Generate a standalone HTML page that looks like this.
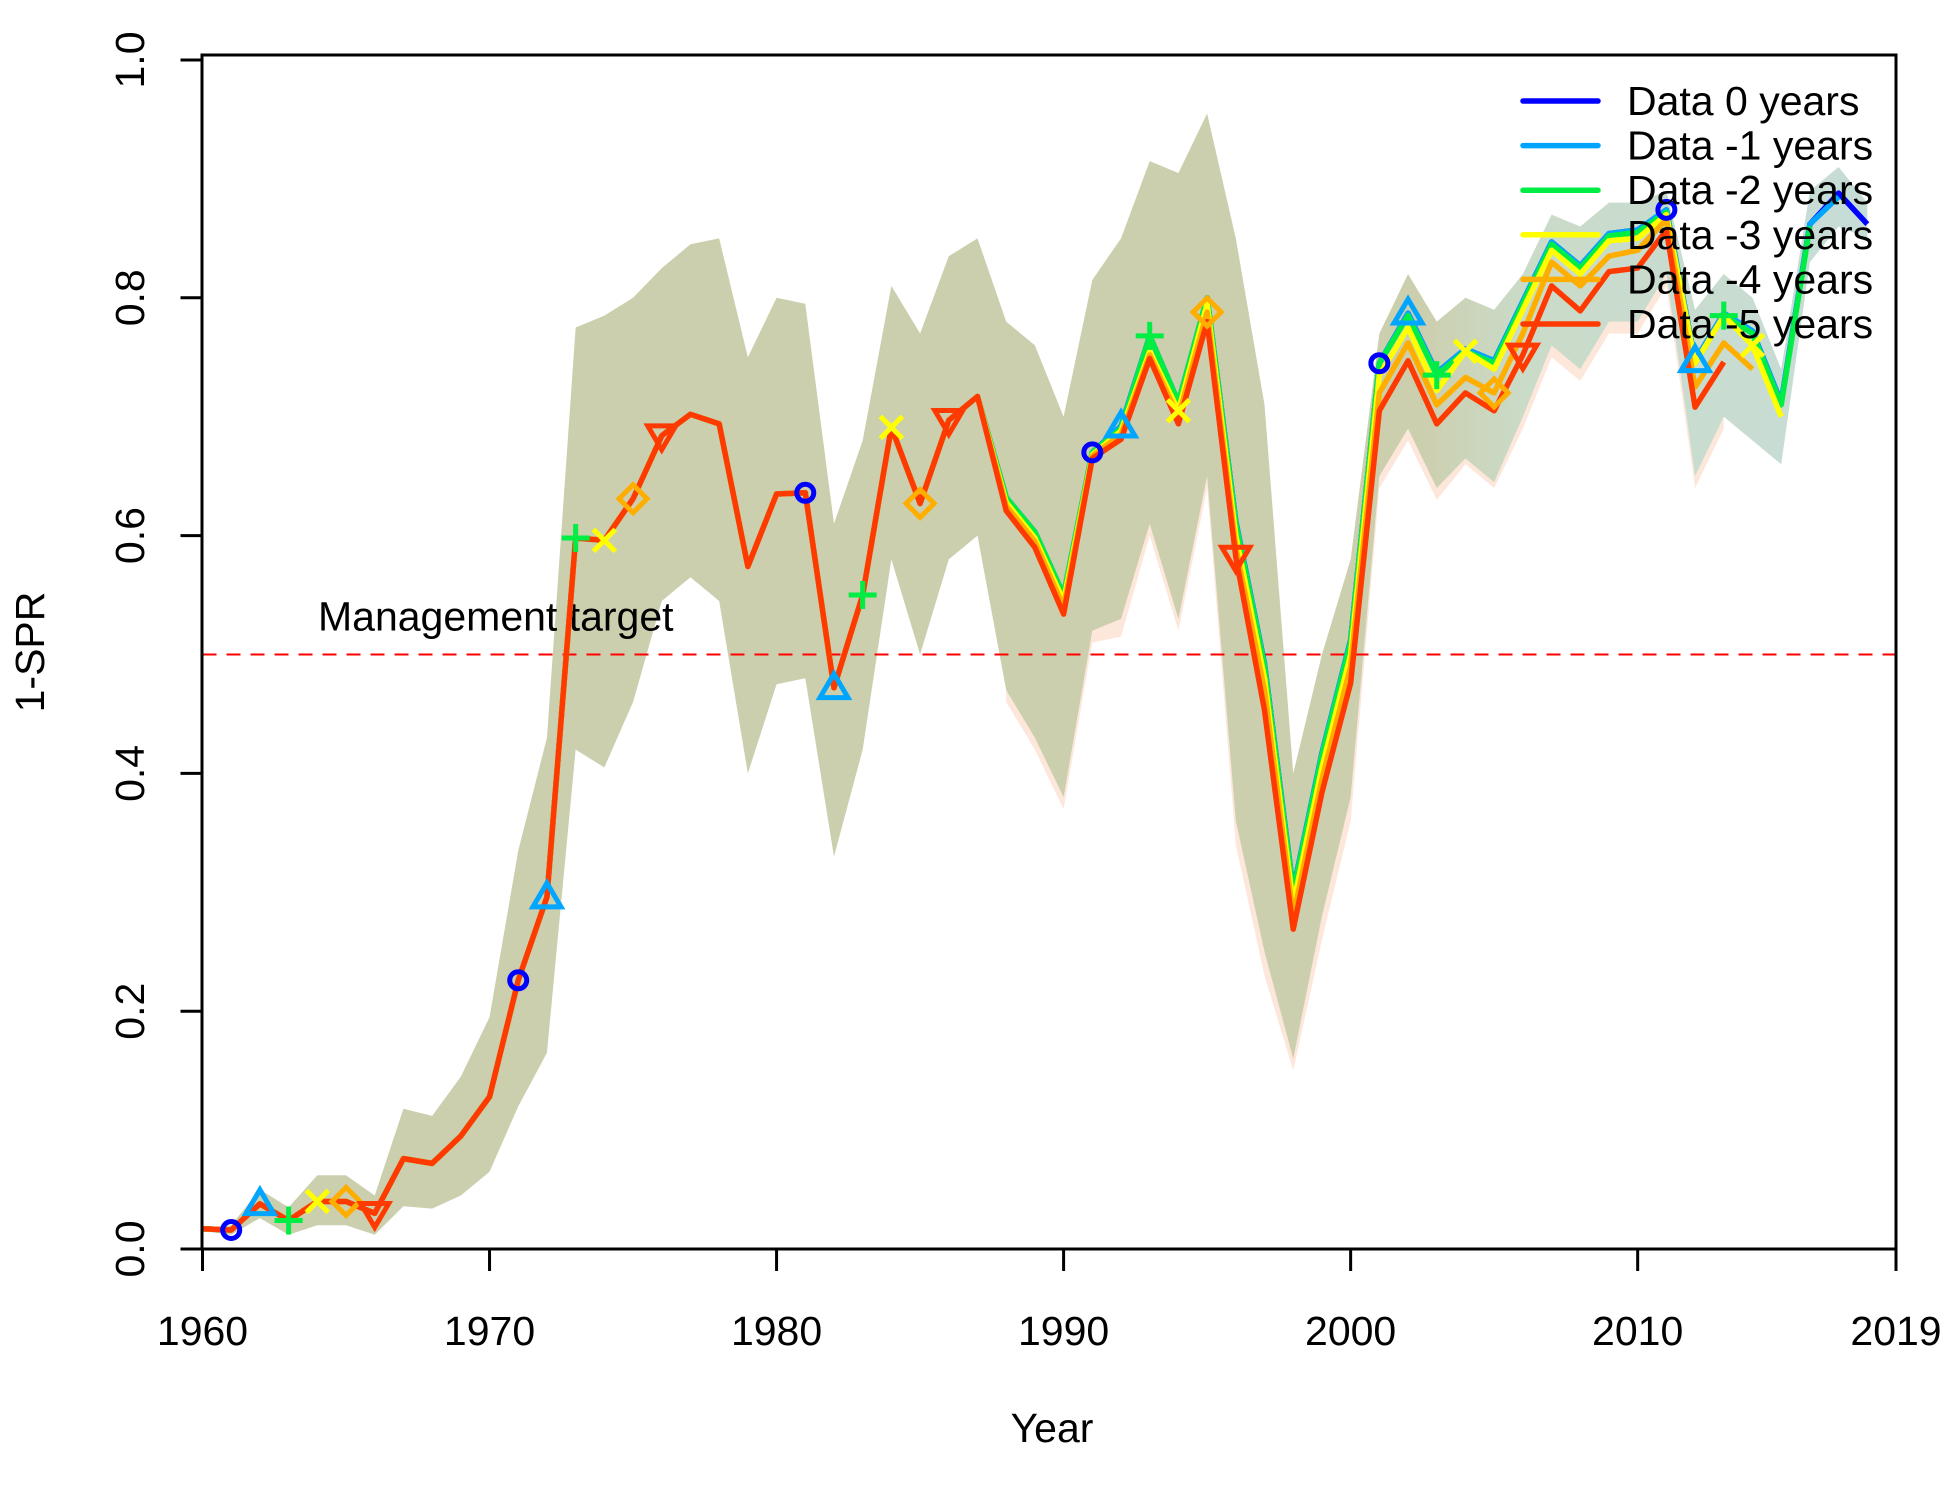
<!DOCTYPE html>
<html><head><meta charset="utf-8"><style>
html,body{margin:0;padding:0;background:#fff;}
svg{display:block;font-family:"Liberation Sans",Arial,sans-serif;}
</style></head><body>
<svg id="chart" width="1950" height="1500" viewBox="0 0 1950 1500" xmlns="http://www.w3.org/2000/svg">
<defs>
<linearGradient id="bandGrad" x1="202" x2="1896" y1="0" y2="0" gradientUnits="userSpaceOnUse">
<stop offset="0" stop-color="#cccfae"/><stop offset="0.72" stop-color="#cccfae"/><stop offset="0.78" stop-color="#cadbc8"/><stop offset="1" stop-color="#c6dcd8"/>
</linearGradient>
</defs>
<g id="bands"></g>
<line id="target" stroke="#ff0000" stroke-width="2" stroke-dasharray="14,10"/>
<text id="targetLabel" font-size="41" fill="#000">Management target</text>
<g id="series"></g>
<g id="markers"></g>
<rect x="202" y="55" width="1694" height="1194" fill="none" stroke="#000" stroke-width="3"/>
<g id="axes"></g>
<text x="1052" y="1442" font-size="41" text-anchor="middle">Year</text>
<text transform="translate(44,652) rotate(-90)" font-size="41" text-anchor="middle">1-SPR</text>
<g id="legend"></g>
</svg>
<script>
const years = [];
for (let y = 1960; y <= 2018; y++) years.push(y);
const early = [0.017,0.016,0.038,0.024,0.040,0.040,0.030,0.076,0.072,0.095,0.128,0.226,0.296,0.598,0.596,0.631,0.684,0.702,0.694,0.574,0.635,0.636,0.472,0.550,0.691,0.627,0.697,0.717];
const late0 = [0.632,0.603,0.550,0.670,0.692,0.768,0.712,0.800,0.612,0.492,0.302,0.417,0.512,0.745,0.787,0.737,0.757,0.747,0.797,0.847,0.827,0.854,0.857,0.874,0.747,0.787,0.772,0.712,0.862,0.888,0.862];
const late1 = [0.632,0.603,0.550,0.670,0.692,0.768,0.712,0.800,0.612,0.492,0.302,0.417,0.512,0.745,0.787,0.737,0.757,0.747,0.797,0.847,0.827,0.854,0.857,0.874,0.747,0.787,0.772,0.712,0.862,0.885];
const late2 = [0.632,0.603,0.550,0.670,0.690,0.768,0.712,0.800,0.610,0.490,0.300,0.415,0.510,0.745,0.785,0.735,0.755,0.745,0.795,0.845,0.825,0.852,0.855,0.872,0.745,0.785,0.770,0.710,0.860];
const late3 = [0.628,0.598,0.545,0.668,0.688,0.755,0.705,0.795,0.600,0.480,0.290,0.405,0.500,0.735,0.775,0.722,0.755,0.740,0.790,0.840,0.820,0.848,0.850,0.870,0.745,0.785,0.760,0.700];
const late4 = [0.625,0.595,0.540,0.667,0.685,0.752,0.700,0.788,0.590,0.470,0.280,0.395,0.490,0.720,0.762,0.710,0.733,0.720,0.770,0.830,0.810,0.835,0.840,0.866,0.725,0.762,0.740];
const late5 = [0.621,0.590,0.534,0.665,0.681,0.749,0.694,0.780,0.582,0.453,0.269,0.384,0.476,0.705,0.747,0.694,0.720,0.705,0.752,0.810,0.789,0.822,0.825,0.857,0.708,0.746];
const bandUpper = [0.017,0.020,0.050,0.035,0.062,0.062,0.045,0.118,0.112,0.145,0.195,0.335,0.430,0.775,0.785,0.800,0.825,0.845,0.850,0.750,0.800,0.795,0.610,0.680,0.810,0.770,0.835,0.850,0.780,0.760,0.700,0.815,0.850,0.915,0.905,0.955,0.850,0.710,0.400,0.500,0.580,0.770,0.820,0.780,0.800,0.790,0.820,0.870,0.860,0.880,0.880,0.890,0.790,0.820,0.800,0.740,0.890,0.910,0.880];
const bandLower = [0.015,0.012,0.026,0.012,0.020,0.020,0.012,0.036,0.034,0.045,0.065,0.120,0.165,0.420,0.405,0.460,0.545,0.565,0.545,0.400,0.475,0.480,0.330,0.420,0.580,0.500,0.580,0.600,0.470,0.430,0.380,0.520,0.530,0.610,0.530,0.650,0.360,0.250,0.160,0.280,0.380,0.650,0.690,0.640,0.665,0.645,0.700,0.760,0.740,0.780,0.780,0.820,0.650,0.700,0.680,0.660,0.830,0.860,0.850];
const peakLower = [0.460,0.420,0.370,0.510,0.515,0.600,0.520,0.640,0.340,0.230,0.150,0.260,0.360,0.640,0.680,0.630,0.660,0.640,0.690,0.750,0.730,0.770,0.770,0.810,0.640,0.690];
const seriesNames = ["Data 0 years","Data -1 years","Data -2 years","Data -3 years","Data -4 years","Data -5 years"];
const seriesColors = ["#0000ff","#00a5ff","#00ee44","#ffff00","#ffae00","#ff3a00"];
const seriesLate = [late0,late1,late2,late3,late4,late5];
const markerTypes = ["circle","triangle","plus","cross","diamond","down"];
const yTicks = [0,0.2,0.4,0.6,0.8,1.0];
const yTickLabels = ["0.0","0.2","0.4","0.6","0.8","1.0"];
const xTicks = [1960,1970,1980,1990,2000,2010,2019];
const targetValue = 0.5;

const X0=202.5, X1=1896, Y0=1249, Y1=60;
const xs = yr => X0 + (yr-1960)/(2019-1960)*(X1-X0);
const ys = v => Y0 - v*(Y0-Y1);
const NS="http://www.w3.org/2000/svg";
function mk(tag, attrs, parent){const e=document.createElementNS(NS,tag);for(const k in attrs)e.setAttribute(k,attrs[k]);parent.appendChild(e);return e;}

const bandsG=document.getElementById('bands');
let ptsB=[];
years.forEach((y,i)=>ptsB.push(xs(y)+','+ys(bandUpper[i])));
for(let i=years.length-1;i>=0;i--)ptsB.push(xs(years[i])+','+ys(bandLower[i]));
let ptsP=[];
for(let i=0;i<peakLower.length;i++){ptsP.push(xs(1988+i)+','+ys(bandLower[28+i]+0.001));}
for(let i=peakLower.length-1;i>=0;i--){ptsP.push(xs(1988+i)+','+ys(peakLower[i]));}
const peach=mk('polygon',{points:ptsP.join(' '),fill:'#fde6da'},bandsG);


const band=mk('polygon',{points:ptsB.join(' '),fill:'url(#bandGrad)'},bandsG);



const tl=document.getElementById('target');
tl.setAttribute('x1',X0);tl.setAttribute('x2',X1);tl.setAttribute('y1',ys(targetValue));tl.setAttribute('y2',ys(targetValue));
const tlab=document.getElementById('targetLabel');
tlab.setAttribute('x',318);tlab.setAttribute('y',ys(targetValue)-24);

const serG=document.getElementById('series'), mkG=document.getElementById('markers');
function seriesVals(s){return early.concat(seriesLate[s]);}
seriesLate.forEach((late,s)=>{
  const vals=seriesVals(s);
  const pts=vals.map((v,i)=>xs(1960+i)+','+ys(v)).join(' ');
  const pl=mk('polyline',{points:pts,fill:'none',stroke:seriesColors[s],'stroke-width':5.5,'stroke-linejoin':'round'},serG);
  
  
});
seriesLate.forEach((late,s)=>{
  const vals=seriesVals(s);
  const c=seriesColors[s];
  for(let i=0;i<vals.length;i++){
    const yr=1960+i;
    if((yr-1961)%10!==s)continue;
    const cx=xs(yr), cy=ys(vals[i]);
    const a={fill:'none',stroke:c,'stroke-width':5};
    let m, r=14;
    const t=markerTypes[s];
    if(t==='circle'){m=mk('circle',Object.assign({cx:cx,cy:cy,r:8.5},a),mkG);}
    else if(t==='triangle'){m=mk('polygon',Object.assign({points:`${cx},${cy-r} ${cx-r},${cy+r*0.7} ${cx+r},${cy+r*0.7}`},a),mkG);}
    else if(t==='down'){m=mk('polygon',Object.assign({points:`${cx},${cy+r} ${cx-r},${cy-r*0.7} ${cx+r},${cy-r*0.7}`},a),mkG);}
    else if(t==='diamond'){m=mk('polygon',Object.assign({points:`${cx},${cy-r} ${cx+r},${cy} ${cx},${cy+r} ${cx-r},${cy}`},a),mkG);}
    else if(t==='plus'){m=mk('path',Object.assign({d:`M${cx-r},${cy}H${cx+r}M${cx},${cy-r}V${cy+r}`},a),mkG);}
    else {const q=11;m=mk('path',Object.assign({d:`M${cx-q},${cy-q}L${cx+q},${cy+q}M${cx-q},${cy+q}L${cx+q},${cy-q}`},a),mkG);}
    
    
  }
});

const axG=document.getElementById('axes');
xTicks.forEach(t=>{
  const x=xs(t);
  const l=mk('line',{x1:x,x2:x,y1:Y0,y2:Y0+22,stroke:'#000','stroke-width':3},axG);
  
  
  const tx=mk('text',{x:x,y:1345,'font-size':41,'text-anchor':'middle'},axG);
  tx.textContent=t;
  
  
});
yTicks.forEach((t,i)=>{
  const y=ys(t);
  const l=mk('line',{x1:X0-22,x2:X0,y1:y,y2:y,stroke:'#000','stroke-width':3},axG);
  
  
  const tx=mk('text',{transform:`translate(144,${y}) rotate(-90)`,'font-size':41,'text-anchor':'middle'},axG);
  tx.textContent=yTickLabels[i];
  
  
});

const lgG=document.getElementById('legend');
seriesNames.forEach((n,i)=>{
  const y=101+i*44.6;
  const l=mk('line',{x1:1523,x2:1598,y1:y,y2:y,stroke:seriesColors[i],'stroke-width':5.5,'stroke-linecap':'round'},lgG);
  
  
  const tx=mk('text',{x:1627,y:y+14,'font-size':41},lgG);
  tx.textContent=n;
  
  
});
</script>
</body></html>
